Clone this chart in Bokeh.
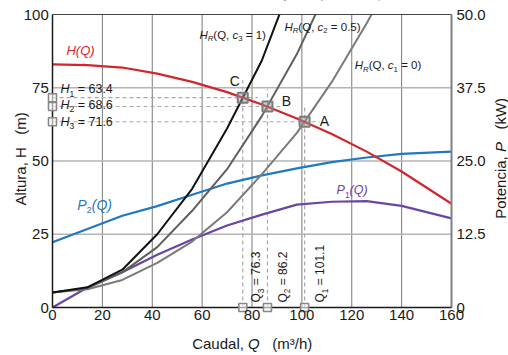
import math
from bokeh.plotting import figure
from bokeh.models import Range1d
from bokeh.core.properties import value
from bokeh.embed import file_html
from bokeh.resources import INLINE

# ---------------- data ----------------
Q_pump = [0, 14, 28, 42, 56, 70, 84, 98, 112, 126, 140, 160]
H_pump = [83.0, 82.7, 81.9, 79.8, 77.0, 73.5, 69.3, 64.5, 59.2, 53.2, 46.4, 35.4]
P1_kw = [0.0, 3.4, 6.0, 9.0, 11.6, 14.0, 15.85, 17.55, 18.05, 18.15, 17.35, 15.2]
P2_kw = [11.15, 13.4, 15.65, 17.3, 19.25, 21.15, 22.55, 23.75, 24.8, 25.6, 26.2, 26.6]

Q_sys = [0, 14, 28, 42, 56, 70, 84, 98, 112, 126, 140]
HR_c3 = [5.1, 6.9, 12.9, 25.0, 40.5, 61.1, 84.4, 115.6]
HR_c2 = [5.1, 6.6, 12.0, 20.6, 33.0, 47.2, 65.4, 86.5, 111.9]
HR_c1 = [5.1, 6.2, 9.4, 15.2, 22.5, 32.5, 45.5, 59.6, 77.0, 97.0, 119.0]

op_names = ["A", "B", "C"]
Q_op = [101.1, 86.2, 76.3]
H_op = [63.4, 68.6, 71.6]

x_ticks = [0, 20, 40, 60, 80, 100, 120, 140, 160]
y_ticks = [0, 25, 50, 75, 100]
p_ticks = [0, 12.5, 25, 37.5, 50]
p_tick_labels = ["0", "12.5", "25.0", "37.5", "50.0"]

# ---------------- layout / styles ----------------
W, H = 508, 355
FL, FR, FT, FB = 52, 451, 14, 307          # plot-area edges in pixels
Q_MAX, H_MAX, P_MAX = 160.0, 100.0, 50.0
SX = (FR - FL) / Q_MAX
SY = (FB - FT) / H_MAX
XMIN, XMAX = -FL / SX, Q_MAX + (W - FR) / SX
YMIN, YMAX = -(H - FB) / SY, H_MAX + FT / SY

FONT = "Liberation Sans"
RED = "#d1262c"
BLUE = "#1f78c1"
PURPLE = "#6a45a3"
BLACK = "#111111"
GRAY2 = "#5f5f5f"
GRAY1 = "#7a7a7a"
DASH = "#a9a9a9"
TXT = "#1a1a1a"

p = figure(width=W, height=H, x_range=Range1d(XMIN, XMAX), y_range=Range1d(YMIN, YMAX),
           output_backend="svg", toolbar_location=None, min_border=0)
p.extra_y_ranges = {"p": Range1d(YMIN * P_MAX / H_MAX, YMAX * P_MAX / H_MAX)}
p.axis.visible = False
p.grid.visible = False
p.outline_line_color = None
p.background_fill_color = "white"
p.border_fill_color = "white"

# grid
gx = x_ticks[1:-1]
p.segment(x0=gx, y0=[0] * len(gx), x1=gx, y1=[H_MAX] * len(gx), line_color="#7a7a7a", line_width=1)
gy = y_ticks[1:-1]
p.segment(x0=[0] * len(gy), y0=gy, x1=[Q_MAX] * len(gy), y1=gy, line_color="#b4b4b4", line_width=1.6)

# dashed guide lines to the operating points
EXT_Q, EXT_H = 6.0, 6.0
p.segment(x0=[0] * 3, y0=H_op, x1=[q + EXT_Q for q in Q_op], y1=H_op,
          line_color=DASH, line_width=1.2, line_dash="4 3")
p.segment(x0=Q_op, y0=[0] * 3, x1=Q_op, y1=[h + EXT_H for h in H_op],
          line_color=DASH, line_width=1.2, line_dash="4 3")

# curves
p.line(Q_pump, P2_kw, y_range_name="p", line_color=BLUE, line_width=2.2)
p.line(Q_pump, P1_kw, y_range_name="p", line_color=PURPLE, line_width=2.2)
p.line(Q_sys[:len(HR_c1)], HR_c1, line_color=GRAY1, line_width=2)
p.line(Q_sys[:len(HR_c2)], HR_c2, line_color=GRAY2, line_width=2)
p.line(Q_sys[:len(HR_c3)], HR_c3, line_color=BLACK, line_width=2)
p.line(Q_pump, H_pump, line_color=RED, line_width=2.2)

# white mask above the plot area (curves leaving the top)
p.quad(left=[XMIN], right=[XMAX], bottom=[H_MAX], top=[YMAX], fill_color="white", line_color=None)

# frame / axis lines
p.segment(x0=[0], y0=[H_MAX], x1=[Q_MAX], y1=[H_MAX], line_color="#444444", line_width=1)
p.segment(x0=[Q_MAX], y0=[0], x1=[Q_MAX], y1=[H_MAX], line_color="#808080", line_width=2)
p.segment(x0=[0, 0], y0=[0, 0], x1=[0, Q_MAX], y1=[H_MAX, 0], line_color="#1a1a1a", line_width=1.5)

# markers
p.scatter(Q_op, H_op, marker="square", size=10, line_color="#7c7c7c", line_width=2,
          fill_color="#9a9a9a", fill_alpha=0.45)
p.scatter([0] * 3, H_op, marker="square", size=8, line_color="#888888", line_width=1.6,
          fill_color="white", fill_alpha=0.6)
p.scatter(Q_op, [0] * 3, marker="square", size=8, line_color="#888888", line_width=1.6,
          fill_color="white", fill_alpha=0.6)

# tick labels
p.text(x=[-3.7 / SX] * len(y_ticks), y=y_ticks, text=[str(t) for t in y_ticks],
       text_font=value(FONT), text_font_size="15px", text_color=TXT,
       text_align="right", text_baseline="middle")
p.text(x=x_ticks, y=[-2.0 / SY] * len(x_ticks), text=[str(t) for t in x_ticks],
       text_font=value(FONT), text_font_size="15px", text_color=TXT,
       text_align="center", text_baseline="top")
p.text(x=[Q_MAX + 5.0 / SX] * len(p_ticks), y=p_ticks, text=p_tick_labels, y_range_name="p",
       text_font=value(FONT), text_font_size="15px", text_color=TXT,
       text_align="left", text_baseline="middle")

# ---------------- rich text helper ----------------
WID = {'H': .722, 'R': .722, 'Q': .778, 'P': .667, '(': .333, ')': .333, ',': .278,
       ' ': .278, '\u00a0': .278, 'c': .5, '=': .584, '.': .278, 'A': .667, 'B': .667,
       'C': .722, 'a': .556, 'l': .222, 't': .278, 'u': .556, 'r': .333, 'd': .556,
       'm': .833, '/': .278, 'h': .556, '³': .333, 'o': .556, 'e': .556, 'n': .556,
       'i': .222, 'k': .5, 'W': .944}
MID = 0.35   # em distance from alphabetic baseline up to the "middle" anchor


def tw(s, size):
    return sum(WID.get(ch, 0.556) for ch in s) * size


def rich(x, y, parts, size, color, rotated=False):
    """x, y: data position of the start of the alphabetic baseline."""
    adv = 0.0
    for txt, kind in parts:
        small = kind.startswith("s")
        fs = size * 0.68 if small else size
        down = (0.24 * size if small else 0.0) - MID * fs   # px, towards text-down
        style = "italic" if kind in ("i", "si") else "normal"
        lead = len(txt) - len(txt.lstrip(" "))
        adv += tw(txt[:lead], fs)
        body = txt[lead:]
        if rotated:
            lx, ly, ang = x + down / SX, y + adv / SY, math.pi / 2
        else:
            lx, ly, ang = x + adv / SX, y - down / SY, 0.0
        p.text(x=[lx], y=[ly], text=[body], angle=ang, text_font=value(FONT),
               text_font_size=f"{fs:.2f}px", text_font_style=style, text_color=color,
               text_align="left", text_baseline="middle")
        adv += tw(body, fs)


# curve names
rich(5.6, 86.1, [("H(Q)", "i")], 13, RED)
rich(9.9, 33.2, [("P", "i"), ("2", "sn"), ("(Q)", "i")], 14, BLUE)
rich(113.9, 38.5, [("P", "i"), ("1", "sn"), ("(Q)", "i")], 12.5, PURPLE)
rich(58.9, 91.8, [("H", "i"), ("R", "si"), ("(Q, ", "n"), ("c", "i"), ("3", "sn"), (" = 1)", "n")], 11.5, TXT)
rich(93.0, 94.4, [("H", "i"), ("R", "si"), ("(Q, ", "n"), ("c", "i"), ("2", "sn"), (" = 0.5)", "n")], 11.5, TXT)
rich(121.2, 81.4, [("H", "i"), ("R", "si"), ("(Q, ", "n"), ("c", "i"), ("1", "sn"), (" = 0)", "n")], 11.5, TXT)

# operating point letters
op_label_pos = [(107.2, 62.0), (91.9, 68.8), (71.1, 75.7)]
for name, (lx, ly) in zip(op_names, op_label_pos):
    rich(lx, ly, [(name, "n")], 14, TXT)

# H values next to the y-axis markers (order as in the reference)
h_label_y = [73.0, 67.6, 61.9]
for i, (hv, ly) in enumerate(zip(H_op, h_label_y)):
    rich(3.2, ly, [("H", "i"), (str(i + 1), "sn"), (f" = {hv}", "n")], 12.5, TXT)

# Q values, rotated, next to the x-axis markers
q_label_x = [109.1, 94.0, 83.4]
for i, (qv, lx) in enumerate(zip(Q_op, q_label_x)):
    rich(lx, 1.7, [("Q", "n"), (str(i + 1), "sn"), (f" = {qv}", "n")], 12, TXT, rotated=True)

# axis titles
NB = "\u00a0"
rich((25 - FL) / SX, (FB - 205) / SY, [(f"Altura, H{NB}{NB}{NB}(m)", "n")], 15, TXT, rotated=True)
rich((505.5 - FL) / SX, (FB - 218.3) / SY,
     [("Potencia, ", "n"), ("P", "i"), (f"{NB}{NB}{NB}(kW)", "n")], 15, TXT, rotated=True)
rich((191.7 - FL) / SX, (FB - 348.3) / SY,
     [("Caudal, ", "n"), ("Q", "i"), (f"{NB}{NB}{NB}(m³/h)", "n")], 15, TXT)

open("out.html", "w").write(file_html(p, INLINE))
